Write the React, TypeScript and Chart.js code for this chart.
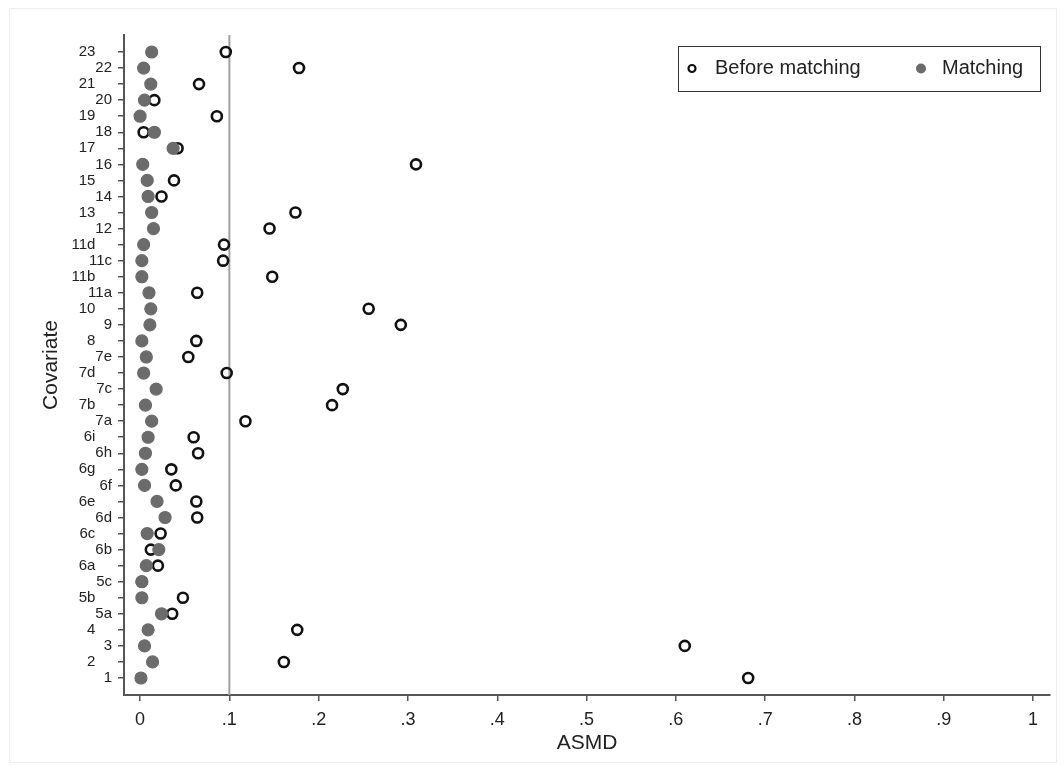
import React, { useEffect, useRef } from "react";
import { Chart, registerables } from "chart.js";

Chart.register(...registerables);

// Covariates listed from bottom (index 0) to top
const covariates: string[] = [
  "1", "2", "3", "4", "5a", "5b", "5c", "6a", "6b", "6c",
  "6d", "6e", "6f", "6g", "6h", "6i", "7a", "7b", "7c", "7d",
  "7e", "8", "9", "10", "11a", "11b", "11c", "11d", "12", "13",
  "14", "15", "16", "17", "18", "19", "20", "21", "22", "23",
];

const beforeMatching: number[] = [
  0.681, 0.161, 0.610, 0.176, 0.036, 0.048, 0.002, 0.020, 0.012, 0.023,
  0.064, 0.063, 0.040, 0.035, 0.065, 0.060, 0.118, 0.215, 0.227, 0.097,
  0.054, 0.063, 0.292, 0.256, 0.064, 0.148, 0.093, 0.094, 0.145, 0.174,
  0.024, 0.038, 0.309, 0.042, 0.004, 0.086, 0.016, 0.066, 0.178, 0.096,
];

const matching: number[] = [
  0.001, 0.014, 0.005, 0.009, 0.024, 0.002, 0.002, 0.007, 0.021, 0.008,
  0.028, 0.019, 0.005, 0.002, 0.006, 0.009, 0.013, 0.006, 0.018, 0.004,
  0.007, 0.002, 0.011, 0.012, 0.010, 0.002, 0.002, 0.004, 0.015, 0.013,
  0.009, 0.008, 0.003, 0.037, 0.016, 0.000, 0.005, 0.012, 0.004, 0.013,
];

const xTickValues: number[] = [0, 0.1, 0.2, 0.3, 0.4, 0.5, 0.6, 0.7, 0.8, 0.9, 1];
const xTickLabels: string[] = ["0", ".1", ".2", ".3", ".4", ".5", ".6", ".7", ".8", ".9", "1"];
const thresholdValue = 0.1;
const legendLabels: string[] = ["Before matching", "Matching"];

const FONT = "'Liberation Sans', Arial, sans-serif";

export default function App() {
  const canvasRef = useRef<HTMLCanvasElement | null>(null);

  useEffect(() => {
    document.body.style.margin = "0";
    const canvas = canvasRef.current;
    if (!canvas) return;

    const framePlugin = {
      id: "frame",
      beforeDraw(chart: any) {
        const ctx = chart.ctx;
        ctx.save();
        ctx.fillStyle = "#ffffff";
        ctx.fillRect(0, 0, chart.width, chart.height);
        ctx.strokeStyle = "#eeeeee";
        ctx.lineWidth = 1;
        ctx.strokeRect(9.5, 8.5, chart.width - 17, chart.height - 17);
        ctx.restore();
      },
    };

    const refLinePlugin = {
      id: "refLine",
      beforeDatasetsDraw(chart: any) {
        const { ctx, chartArea, scales } = chart;
        const x = scales.x.getPixelForValue(thresholdValue);
        ctx.save();
        ctx.strokeStyle = "#a0a0a0";
        ctx.lineWidth = 2;
        ctx.beginPath();
        ctx.moveTo(x, chartArea.top);
        ctx.lineTo(x, chartArea.bottom);
        ctx.stroke();
        ctx.restore();
      },
    };

    const legendPlugin = {
      id: "boxLegend",
      afterDraw(chart: any) {
        const { ctx, chartArea } = chart;
        const right = chartArea.right - 10;
        const top = chartArea.top + 11;
        const left = right - 362;
        const h = 45;
        ctx.save();
        ctx.fillStyle = "#ffffff";
        ctx.fillRect(left, top, right - left, h);
        ctx.strokeStyle = "#333333";
        ctx.lineWidth = 1;
        ctx.strokeRect(left + 0.5, top + 0.5, right - left, h);
        const cy = top + h / 2;
        // open marker
        ctx.beginPath();
        ctx.arc(left + 14, cy, 3.5, 0, Math.PI * 2);
        ctx.strokeStyle = "#111111";
        ctx.lineWidth = 2.2;
        ctx.stroke();
        ctx.font = `20px ${FONT}`;
        ctx.fillStyle = "#222222";
        ctx.textBaseline = "middle";
        ctx.textAlign = "left";
        ctx.fillText(legendLabels[0], left + 37, cy);
        // filled marker
        ctx.beginPath();
        ctx.arc(left + 243, cy, 5, 0, Math.PI * 2);
        ctx.fillStyle = "#6b6b6b";
        ctx.fill();
        ctx.fillStyle = "#222222";
        ctx.fillText(legendLabels[1], left + 264, cy);
        ctx.restore();
      },
    };

    const chart = new Chart(canvas, {
      type: "scatter",
      data: {
        datasets: [
          {
            label: legendLabels[0],
            data: beforeMatching.map((v, i) => ({ x: v, y: i })),
            pointRadius: 5,
            pointBorderWidth: 2.6,
            pointBorderColor: "#111111",
            pointBackgroundColor: "rgba(0,0,0,0)",
            order: 2,
          },
          {
            label: legendLabels[1],
            data: matching.map((v, i) => ({ x: v, y: i })),
            pointRadius: 6,
            pointBorderWidth: 1.2,
            pointBorderColor: "#6b6b6b",
            pointBackgroundColor: "#6b6b6b",
            order: 1,
          },
        ],
      },
      options: {
        animation: false,
        responsive: false,
        maintainAspectRatio: false,
        devicePixelRatio: 1,
        layout: { padding: { left: 0, top: 35, right: 14, bottom: 0 } },
        plugins: {
          legend: { display: false },
          tooltip: { enabled: false },
        },
        scales: {
          x: {
            type: "linear",
            min: -0.018,
            max: 1.019,
            afterBuildTicks(scale: any) {
              scale.ticks = xTickValues.map((v) => ({ value: v }));
            },
            afterFit(scale: any) {
              scale.height = 76;
            },
            ticks: {
              autoSkip: false,
              maxRotation: 0,
              padding: 8,
              color: "#222222",
              font: { family: FONT, size: 18 },
              callback: (_v: any, i: number) => xTickLabels[i],
            },
            grid: {
              drawOnChartArea: false,
              drawTicks: true,
              tickLength: 6,
              color: "#555555",
              lineWidth: 1.5,
            },
            border: { display: true, color: "#555555", width: 2 },
            title: {
              display: true,
              text: "ASMD",
              color: "#222222",
              font: { family: FONT, size: 21 },
              padding: { top: 0, bottom: 15 },
            },
          },
          y: {
            type: "linear",
            min: -1.06,
            max: 40.06,
            afterBuildTicks(scale: any) {
              scale.ticks = covariates.map((_c, i) => ({ value: i }));
            },
            afterFit(scale: any) {
              scale.width = 124;
            },
            ticks: {
              autoSkip: false,
              padding: 6,
              color: "#222222",
              font: { family: FONT, size: 15 },
              callback: (_v: any, i: number) =>
                i % 2 === 1 ? covariates[i] + "    " : covariates[i],
            },
            grid: {
              drawOnChartArea: false,
              drawTicks: true,
              tickLength: 6,
              color: "#555555",
              lineWidth: 1.5,
            },
            border: { display: true, color: "#555555", width: 2 },
            title: {
              display: true,
              text: "Covariate",
              color: "#222222",
              font: { family: FONT, size: 21 },
              padding: { top: 39, bottom: 0 },
            },
          },
        },
      },
      plugins: [framePlugin, refLinePlugin, legendPlugin],
    } as any);

    return () => chart.destroy();
  }, []);

  return (
    <div style={{ width: 1064, height: 771 }}>
      <canvas ref={canvasRef} width={1064} height={771} style={{ display: "block" }} />
    </div>
  );
}
